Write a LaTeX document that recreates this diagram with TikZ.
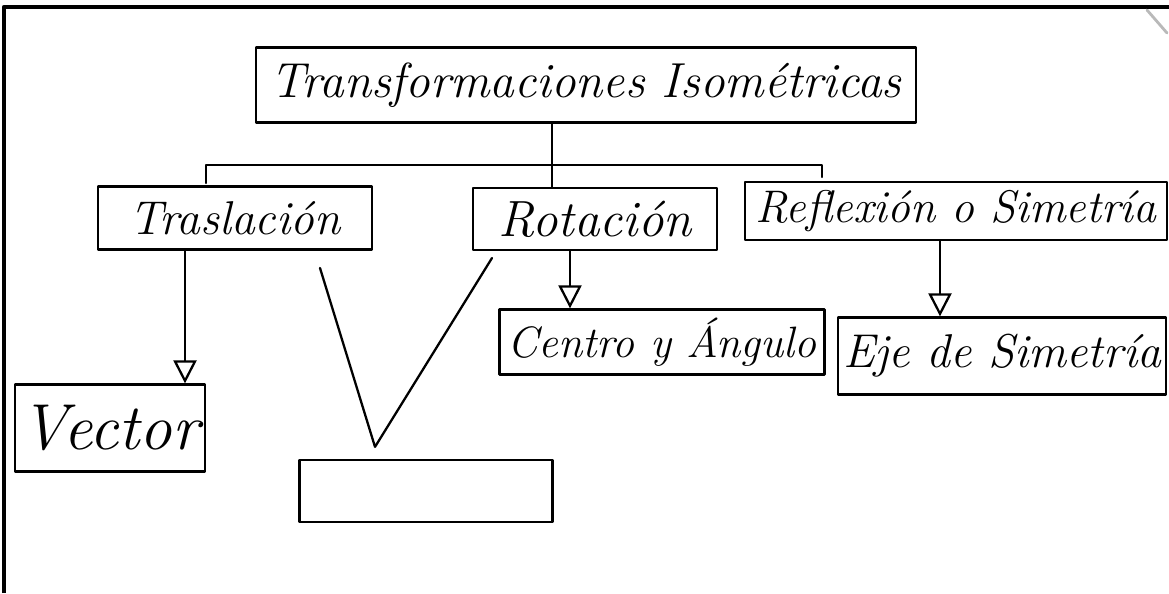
\documentclass[tikz,border=0pt]{standalone}
\usetikzlibrary{arrows.meta}

\begin{document}
\begin{tikzpicture}[x=0.02cm, y=-0.02cm, line width=1.3pt, line cap=round, line join=round]
    \tikzstyle{box}=[draw, rectangle, inner sep=0pt, font=\itshape\fontsize{25}{28}\selectfont]
    \tikzstyle{hand}=[font=\itshape\fontsize{#1}{#1}\selectfont]
    \tikzstyle{down arrow}=[-{Triangle[open, length=0.46cm, width=0.46cm]}]
    \tikzstyle{frame}=[line width=2.6pt, line cap=butt]

    \useasboundingbox (0,0) rectangle (1169,593);

    % Draw the page frame
    \draw[frame] (4,593) -- (4,7) -- (1169,7);
    \draw[gray!55, line width=1.6pt] (1147,10) -- (1167,33);

    % Draw the title
    \node[box, hand=28, minimum width=13.2cm, minimum height=1.5cm] (title) at (586,85)
        {Transformaciones Isom\'etricas};

    % Draw the three kinds of transformation
    \node[box, hand=27, minimum width=5.48cm, minimum height=1.26cm] (tras) at (235,218) {Traslaci\'on};
    \node[box, hand=29, minimum width=4.88cm, minimum height=1.24cm] (rot) at (595,219) {Rotaci\'on};
    \node[box, hand=26, minimum width=8.44cm, minimum height=1.16cm] (refl) at (956,211) {Reflexi\'on o Simetr\'ia};

    % Draw what each one needs
    \node[box, hand=37, minimum width=3.8cm, minimum height=1.74cm] (vector) at (110,428) {Vector};
    \node[box, minimum width=5.06cm, minimum height=1.24cm] (blank) at (426,491) {};
    \node[box, hand=25, minimum width=6.5cm, minimum height=1.3cm] (centro) at (662,342) {Centro y \'Angulo};
    \node[box, hand=27, minimum width=6.56cm, minimum height=1.54cm] (eje) at (1002,356) {Eje de Simetr\'ia};

    % Branch out of the title
    \coordinate (hub) at (552,165);
    \coordinate (bl) at (206,165);
    \coordinate (br) at (822,165);
    \coordinate (tl) at (206,183);
    \coordinate (tr) at (822,177);
    \draw (title.south -| hub) -- (hub) -- (hub |- rot.north);
    \draw (tl) -- (bl) -- (br) -- (tr);

    % Connect each transformation with what it needs
    \draw[down arrow] ([xshift=-1cm]tras.south) -- ([xshift=-1cm]tras.south |- vector.north);
    \draw[down arrow] ([xshift=-0.5cm]rot.south) -- ([xshift=-0.5cm]rot.south |- centro.north);
    \draw[down arrow] ([xshift=-0.32cm]refl.south) -- ([xshift=-0.32cm]refl.south |- eje.north);

    % The open V over the empty box
    \coordinate (vl) at (320,268);
    \coordinate (vr) at (492,258);
    \draw (vl) -- ([xshift=-1.02cm, yshift=0.24cm]blank.north) -- (vr);
\end{tikzpicture}
\end{document}
